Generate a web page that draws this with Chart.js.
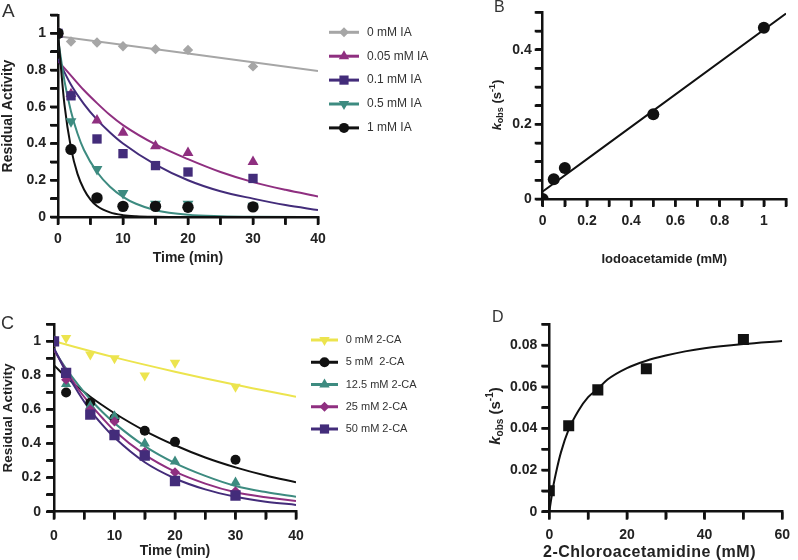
<!DOCTYPE html>
<html><head><meta charset="utf-8">
<script src="https://cdn.jsdelivr.net/npm/chart.js@4.4.1/dist/chart.umd.min.js"></script>
<style>
html,body{margin:0;padding:0;background:#fff;overflow:hidden;}
body{width:798px;height:560px;position:relative;font-family:"Liberation Sans",Arial,sans-serif;}
.panel{position:absolute;}
.lbl{position:absolute;color:#333;line-height:1;font-weight:normal;}
</style></head><body>
<div class="panel" style="left:0;top:0;width:460px;height:280px"><canvas id="cA"></canvas></div>
<div class="panel" style="left:460px;top:0;width:338px;height:280px"><canvas id="cB"></canvas></div>
<div class="panel" style="left:0;top:280px;width:460px;height:280px"><canvas id="cC"></canvas></div>
<div class="panel" style="left:460px;top:280px;width:338px;height:280px"><canvas id="cD"></canvas></div>
<div class="lbl" style="left:2px;top:1px;font-size:19px">A</div>
<div class="lbl" style="left:494px;top:-1px;font-size:16px">B</div>
<div class="lbl" style="left:1px;top:314px;font-size:18px">C</div>
<div class="lbl" style="left:492px;top:309px;font-size:16px">D</div>
<script>
// ---------- Panel A: residual activity vs time, iodoacetamide ----------
const timeA = [0, 2, 6, 10, 15, 20, 30];
const ia0   = [1.0, 0.956, 0.95, 0.93, 0.914, 0.91, 0.82];
const ia005 = [1.0, 0.67, 0.526, 0.46, 0.386, 0.35, 0.30];
const ia01  = [1.0, 0.66, 0.425, 0.345, 0.28, 0.245, 0.21];
const ia05  = [1.0, 0.52, 0.26, 0.13, 0.072, 0.072, 0.06];
const ia1   = [1.0, 0.368, 0.104, 0.058, 0.058, 0.053, 0.055];
const legendA = ['0 mM IA', '0.05 mM IA', '0.1 mM IA', '0.5 mM IA', '1 mM IA'];

const fitA0_t   = [0, 20, 40];
const fitA0     = [0.985, 0.89, 0.795];
const fitA005_t = [0, 2, 4, 6, 8, 10, 15, 20, 25, 30, 35, 40];
const fitA005   = [0.85, 0.77, 0.69, 0.62, 0.555, 0.5, 0.395, 0.315, 0.245, 0.19, 0.148, 0.112];
const fitA01_t  = [0, 2, 4, 6, 8, 10, 15, 20, 25, 30, 35, 40];
const fitA01    = [0.86, 0.72, 0.615, 0.53, 0.46, 0.4, 0.285, 0.2, 0.14, 0.1, 0.065, 0.038];
const fitA05_t  = [0, 1, 2, 3, 4, 6, 8, 10, 12, 15, 20, 25, 30, 40];
const fitA05    = [0.97, 0.74, 0.575, 0.455, 0.365, 0.245, 0.165, 0.11, 0.072, 0.037, 0.012, 0.004, 0.001, 0];
const fitA1_t   = [0, 1, 2, 3, 4, 5, 6, 8, 10, 12, 15, 20, 40];
const fitA1     = [1.0, 0.61, 0.375, 0.235, 0.15, 0.095, 0.06, 0.025, 0.01, 0.004, 0.001, 0, 0];

// ---------- Panel B: kobs vs iodoacetamide ----------
const iaConc = [0, 0.05, 0.1, 0.5, 1.0];
const kobsIA = [0, 0.053, 0.083, 0.227, 0.459];
const fitB_x = [0, 1.1];
const fitB   = [0.02, 0.497];

// ---------- Panel C: residual activity vs time, 2-CA ----------
const timeC = [0, 2, 6, 10, 15, 20, 30];
const ca0   = [1.0, 1.02, 0.923, 0.90, 0.80, 0.874, 0.733];
const ca5   = [1.0, 0.70, 0.64, 0.55, 0.475, 0.41, 0.305];
const ca125 = [1.0, 0.75, 0.62, 0.56, 0.40, 0.295, 0.172];
const ca25  = [1.0, 0.775, 0.60, 0.53, 0.35, 0.232, 0.12];
const ca50  = [1.0, 0.815, 0.57, 0.45, 0.33, 0.18, 0.095];
const legendC = ['0 mM 2-CA', '5 mM  2-CA', '12.5 mM 2-CA', '25 mM 2-CA', '50 mM 2-CA'];

const fitC0_t = [0, 10, 20, 30, 40];
const fitC0   = [1.0, 0.906, 0.822, 0.745, 0.675];
const fitC_t  = [0, 2, 4, 6, 8, 10, 15, 20, 25, 30, 35, 40];
const fitC5   = [0.86, 0.79, 0.73, 0.675, 0.625, 0.578, 0.475, 0.39, 0.318, 0.26, 0.212, 0.173];
const fitC125 = [0.95, 0.84, 0.745, 0.66, 0.585, 0.52, 0.385, 0.285, 0.21, 0.151, 0.115, 0.088];
const fitC25  = [0.95, 0.83, 0.72, 0.63, 0.55, 0.475, 0.335, 0.235, 0.165, 0.114, 0.085, 0.063];
const fitC50  = [0.96, 0.82, 0.70, 0.595, 0.51, 0.435, 0.29, 0.195, 0.131, 0.088, 0.059, 0.04];

// ---------- Panel D: kobs vs 2-chloroacetamidine ----------
const caConc = [0, 5, 12.5, 25, 50];
const kobsCA = [0.0101, 0.0413, 0.0585, 0.0686, 0.0827];
const fitD_x = [0, 1, 2, 3, 5, 7.5, 10, 12.5, 15, 20, 25, 30, 35, 40, 50, 60];
const fitD   = [0, 0.012, 0.021, 0.0285, 0.0395, 0.0485, 0.055, 0.059, 0.0635, 0.069, 0.0725, 0.075, 0.077, 0.0785, 0.0805, 0.082];

// ---------- styling ----------
const FAM = '"Liberation Sans", Arial, Helvetica, sans-serif';
Chart.defaults.font.family = FAM;
Chart.defaults.animation = false;
const COL = {gray:'#a6a6a6', mag:'#8f2f80', pur:'#432c7a', teal:'#3d8b80', blk:'#111111', yel:'#ece44e'};
const AX = '#111111', TXT = '#222222';

function xy(xs, ys){ return xs.map((x,i)=>({x:x, y:ys[i]})); }
function pts(xs, ys, color, style, r, order, rot){
  return {type:'line', data:xy(xs,ys), showLine:false, pointStyle:style, pointRadius:r, pointHoverRadius:r,
    pointBackgroundColor:color, pointBorderColor:color, pointBorderWidth:0, pointRotation:rot||0, order:order};
}
function fit(xs, ys, color, order){
  return {type:'line', data:xy(xs,ys), borderColor:color, borderWidth:2, pointRadius:0, pointHoverRadius:0,
    cubicInterpolationMode:'monotone', fill:false, order:order};
}
function fmt(v){ return String(parseFloat(v.toFixed(4))); }
function isMult(v, m){ const q=v/m; return Math.abs(q-Math.round(q))<1e-6; }
function axis(o){
  return {
    type:'linear', min:o.min, max:o.max, position:o.pos,
    ticks:{stepSize:o.step, autoSkip:false, maxRotation:0, padding:o.pad, color:TXT,
      font:{size:o.fs||14, weight:'bold'},
      callback:(v)=> isMult(v, o.every) ? fmt(v) : ''},
    grid:{display:true, drawOnChartArea:false, drawTicks:true, tickLength:o.tl||7, lineWidth:2.5, color:AX,
      tickColor:AX, tickWidth:2.5},
    border:{display:true, color:AX, width:2.5},
    afterFit:(sc)=>{ if(o.pos==='left') sc.width=o.size; else sc.height=o.size; },
    title:{display:!!o.title, text:o.title||'', color:TXT, font:{size:o.tfs||14, weight:'bold'},
      padding: o.pos==='left' ? {top:o.tpad||0, bottom:0} : {top:0, bottom:o.tpad||0}}
  };
}
// outward tick marks on every tick of each axis (filled bars)
const tickMarks = {
  id:'tickMarks',
  afterDraw(chart){
    const ctx = chart.ctx, a = chart.chartArea;
    ctx.save(); ctx.fillStyle = AX;
    Object.keys(chart.scales).forEach(k=>{
      const sc = chart.scales[k];
      const tl = (sc.options.grid && sc.options.grid.tickLength) || 7;
      (sc.ticks||[]).forEach(t=>{
        const p = sc.getPixelForValue(t.value);
        if(sc.isHorizontal()) ctx.fillRect(p-1.25, a.bottom, 2.5, tl+1);
        else ctx.fillRect(a.left-tl-1, p-1.25, tl+1, 2.5);
      });
    });
    ctx.restore();
  }
};
function shape(ctx, style, x, y, r){
  ctx.beginPath();
  if(style==='circle'){ ctx.arc(x,y,r,0,Math.PI*2); }
  else if(style==='rect'){ const s=r*Math.SQRT1_2; ctx.rect(x-s,y-s,2*s,2*s); }
  else if(style==='rectRot'){ ctx.moveTo(x-r,y); ctx.lineTo(x,y-r); ctx.lineTo(x+r,y); ctx.lineTo(x,y+r); ctx.closePath(); }
  else { const d = style==='triangle'?1:-1;
    ctx.moveTo(x, y-d*r); ctx.lineTo(x+r*0.866, y+d*r*0.5); ctx.lineTo(x-r*0.866, y+d*r*0.5); ctx.closePath(); }
  ctx.fill();
}
const markerLegend = {
  id:'markerLegend',
  afterDraw(chart, args, o){
    if(!o || !o.items) return;
    const ctx = chart.ctx;
    o.items.forEach((it,i)=>{
      const y = o.y0 + i*o.dy;
      ctx.save();
      ctx.strokeStyle = it.color; ctx.fillStyle = it.color; ctx.lineWidth = o.lw;
      ctx.beginPath(); ctx.moveTo(o.x0,y); ctx.lineTo(o.x1,y); ctx.stroke();
      shape(ctx, it.style, (o.x0+o.x1)/2, y, it.r);
      ctx.fillStyle = o.color; ctx.font = o.fs+'px '+FAM; ctx.textBaseline='middle'; ctx.textAlign='left';
      ctx.fillText(it.text, o.xt, y);
      ctx.restore();
    });
  }
};
const kobsTitle = {
  id:'kobsTitle',
  afterDraw(chart, args, o){
    if(!o || !o.size) return;
    const ctx = chart.ctx, S=o.size, s=Math.round(S*0.66);
    ctx.save();
    ctx.translate(o.cx, o.cy); ctx.rotate(-Math.PI/2);
    const parts = [
      {t:'k',   f:'italic bold '+S+'px '+FAM, dy:0},
      {t:'obs', f:'bold '+s+'px '+FAM, dy:S*0.3},
      {t:' (s', f:'bold '+S+'px '+FAM, dy:0},
      {t:'-1',  f:'bold '+s+'px '+FAM, dy:-S*0.38},
      {t:')',   f:'bold '+S+'px '+FAM, dy:0}
    ];
    let w=0; parts.forEach(p=>{ ctx.font=p.f; p.w=ctx.measureText(p.t).width; w+=p.w; });
    let x=-w/2; ctx.fillStyle=TXT; ctx.textBaseline='middle'; ctx.textAlign='left';
    parts.forEach(p=>{ ctx.font=p.f; ctx.fillText(p.t, x, p.dy); x+=p.w; });
    ctx.restore();
  }
};
const axisText = {
  id:'axisText',
  afterDraw(chart, args, o){
    if(!o || !o.text) return;
    const ctx = chart.ctx;
    ctx.save();
    ctx.font = 'bold '+o.size+'px '+FAM; ctx.fillStyle = TXT;
    if('letterSpacing' in ctx) ctx.letterSpacing = o.spacing+'px';
    ctx.textAlign='center'; ctx.textBaseline='middle';
    ctx.fillText(o.text, o.cx, o.cy);
    ctx.restore();
  }
};
function baseOpts(pad, xs, ys, extra){
  return {
    responsive:true, maintainAspectRatio:false, animation:false,
    layout:{padding:pad},
    scales:{x:xs, y:ys},
    plugins:Object.assign({legend:{display:false}, tooltip:{enabled:false}}, extra||{})
  };
}

// ---------- Chart A ----------
new Chart(document.getElementById('cA'), {
  type:'line',
  data:{datasets:[
    pts(timeA, ia1,   COL.blk,  'circle',   5.7, 0),
    pts(timeA, ia05,  COL.teal, 'triangle', 6.3, 1, 180),
    pts(timeA, ia01,  COL.pur,  'rect',     6.6, 2),
    pts(timeA, ia005, COL.mag,  'triangle', 6.3, 3),
    pts(timeA, ia0,   COL.gray, 'rectRot',  5.2, 4),
    fit(fitA1_t,   fitA1,   COL.blk,  5),
    fit(fitA05_t,  fitA05,  COL.teal, 6),
    fit(fitA01_t,  fitA01,  COL.pur,  7),
    fit(fitA005_t, fitA005, COL.mag,  8),
    fit(fitA0_t,   fitA0,   COL.gray, 9)
  ]},
  options: baseOpts({left:0, top:15, right:142, bottom:0},
    axis({min:0, max:40, step:5, every:10, pos:'bottom', pad:7, size:63, title:'Time (min)', tfs:14, tpad:13.6, tl:7}),
    axis({min:0, max:1.1, step:0.1, every:0.2, pos:'left', pad:5, size:58, title:'Residual Activity', tfs:14, tpad:0, tl:7}),
    {markerLegend:{x0:329, x1:359, xt:367, y0:32.3, dy:23.9, lw:3, fs:12, color:'#333',
      items:[
        {text:legendA[0], color:COL.gray, style:'rectRot', r:5},
        {text:legendA[1], color:COL.mag,  style:'triangle', r:6},
        {text:legendA[2], color:COL.pur,  style:'rect', r:6.5},
        {text:legendA[3], color:COL.teal, style:'triangleDown', r:6},
        {text:legendA[4], color:COL.blk,  style:'circle', r:5}
      ]}}),
  plugins:[markerLegend, tickMarks]
});

// ---------- Chart B ----------
new Chart(document.getElementById('cB'), {
  type:'line',
  data:{datasets:[
    pts(iaConc, kobsIA, COL.blk, 'circle', 6, 0),
    fit(fitB_x, fitB, COL.blk, 1)
  ]},
  options: baseOpts({left:0, top:10.7, right:12, bottom:0},
    axis({min:0, max:1.1, step:0.1, every:0.2, pos:'bottom', pad:7, size:81, title:'Iodoacetamide (mM)', tfs:13, tpad:13.2, tl:7}),
    axis({min:0, max:0.5, step:0.05, every:0.2, pos:'left', pad:4, size:82.7, tl:7}),
    {kobsTitle:{size:13, cx:37, cy:105}}),
  plugins:[kobsTitle, tickMarks]
});

// ---------- Chart C ----------
new Chart(document.getElementById('cC'), {
  type:'line',
  data:{datasets:[
    pts(timeC, ca50,  COL.pur,  'rect',     7.3, 0),
    pts(timeC, ca25,  COL.mag,  'rectRot',  5,   1),
    pts(timeC, ca125, COL.teal, 'triangle', 6,   2),
    pts(timeC, ca5,   COL.blk,  'circle',   5,   3),
    pts(timeC, ca0,   COL.yel,  'triangle', 6,   4, 180),
    fit(fitC_t,  fitC50,  COL.pur,  5),
    fit(fitC_t,  fitC25,  COL.mag,  6),
    fit(fitC_t,  fitC125, COL.teal, 7),
    fit(fitC_t,  fitC5,   COL.blk,  8),
    fit(fitC0_t, fitC0,   COL.yel,  9)
  ]},
  options: baseOpts({left:0, top:44.3, right:164, bottom:0},
    axis({min:0, max:40, step:5, every:10, pos:'bottom', pad:9, size:48.3, title:'Time (min)', tfs:14, tpad:0, tl:7}),
    axis({min:0, max:1.1, step:0.1, every:0.2, pos:'left', pad:6, size:54, title:'Residual Activity', tfs:13.5, tpad:0, tl:7}),
    {markerLegend:{x0:311, x1:338, xt:345.7, y0:60, dy:22.25, lw:3, fs:11, color:'#333',
      items:[
        {text:legendC[0], color:COL.yel,  style:'triangleDown', r:6},
        {text:legendC[1], color:COL.blk,  style:'circle', r:5},
        {text:legendC[2], color:COL.teal, style:'triangle', r:6},
        {text:legendC[3], color:COL.mag,  style:'rectRot', r:5},
        {text:legendC[4], color:COL.pur,  style:'rect', r:6.5}
      ]}}),
  plugins:[markerLegend, tickMarks]
});

// ---------- Chart D ----------
new Chart(document.getElementById('cD'), {
  type:'line',
  data:{datasets:[
    pts(caConc, kobsCA, COL.blk, 'rect', 7.8, 0),
    fit(fitD_x, fitD, COL.blk, 1)
  ]},
  options: baseOpts({left:0, top:44.3, right:7, bottom:0},
    axis({min:0, max:60, step:10, every:20, pos:'bottom', pad:8, size:48.3, tl:7}),
    axis({min:0, max:0.09, step:0.01, every:0.02, pos:'left', pad:5, size:89.3, tl:7}),
    {kobsTitle:{size:15, cx:36, cy:136},
     axisText:{text:'2-Chloroacetamidine (mM)', size:16, spacing:0.5, cx:189.5, cy:273}}),
  plugins:[kobsTitle, axisText, tickMarks]
});
</script>
</body></html>
